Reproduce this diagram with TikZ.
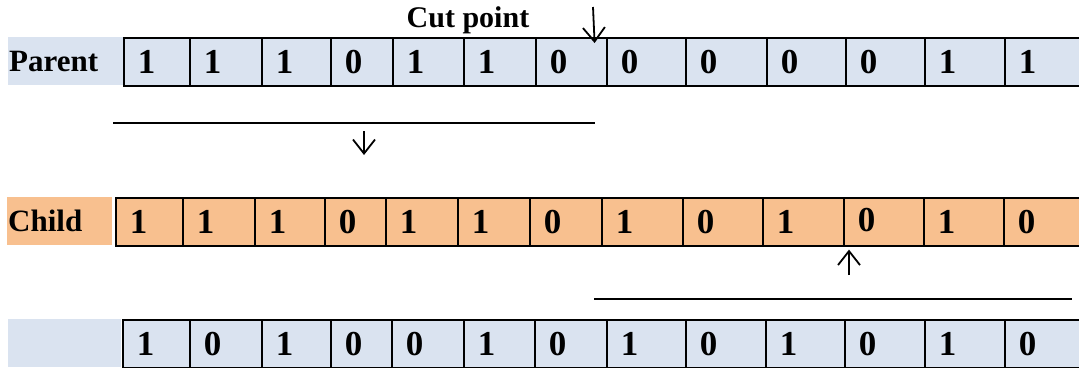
\documentclass[tikz,border=0pt]{standalone}
\usepackage{fontspec}
\setmainfont{Liberation Serif}
\usepackage{xcolor}
\usetikzlibrary{arrows.meta}

\definecolor{parentblue}{HTML}{DAE3F0}
\definecolor{childorange}{HTML}{F8C08F}

\begin{document}
\begin{tikzpicture}[x=1pt,y=-1pt]
            \tikzset{
                bit/.style={draw, line width=1.6pt, anchor=north west, minimum height=48pt,
                    inner xsep=14pt, inner ysep=0pt, align=left,
                    font=\fontsize{35}{35}\selectfont\bfseries},
                tag/.style={anchor=north west, minimum height=48pt, inner xsep=1pt,
                    inner ysep=0pt, align=left, font=\fontsize{31}{31}\selectfont\bfseries},
                cutline/.style={line width=1.6pt},
                marker/.style={line width=1.8pt, -{Straight Barb[length=14pt, width=22pt, line width=1.8pt]}}
            }
            \useasboundingbox (0,0) rectangle (1079,367);
            % row labels
            \node[tag, fill=parentblue, text width=113pt] (parent) at (8,37) {Parent};
            \node[tag, fill=childorange, text width=103pt] (child) at (7,197) {Child};
            \node[tag, fill=parentblue, text width=111pt] (other) at (8,319) {};
            % parent chromosome
            \foreach \i/\l/\r/\v [evaluate=\l as \w using \r-\l-28] in
                {1/123/189/1, 2/189/261/1, 3/261/330/1, 4/330/392/0, 5/392/463/1, 6/463/535/1, 7/535/606/0,
                 8/606/685/0, 9/685/766/0, 10/766/845/0, 11/845/924/0, 12/924/1004/1, 13/1004/1082/1}
                \node[bit, fill=parentblue, text width=\w pt] (p\i) at (\l,37) {\v};
            % child chromosome
            \foreach \i/\l/\r/\v [evaluate=\l as \w using \r-\l-28] in
                {1/115/182/1, 2/182/254/1, 3/254/324/1, 4/324/385/0, 5/385/457/1, 6/457/529/1, 7/529/601/0,
                 8/601/682/1, 9/682/762/0, 10/762/843/1, 11/843/923/{\raisebox{4pt}{0}}, 12/923/1003/1, 13/1003/1082/0}
                \node[bit, fill=childorange, text width=\w pt] (c\i) at (\l,197) {\v};
            % second parent
            \foreach \i/\l/\r/\v [evaluate=\l as \w using \r-\l-28] in
                {1/122/189/1, 2/189/261/0, 3/261/330/1, 4/330/391/0, 5/391/463/0, 6/463/534/1, 7/534/606/0,
                 8/606/685/1, 9/685/765/0, 10/765/844/1, 11/844/924/0, 12/924/1004/1, 13/1004/1082/0}
                \node[bit, fill=parentblue, text width=\w pt] (o\i) at (\l,319) {\v};
            % cut points
            \node[font=\fontsize{30}{30}\selectfont\bfseries] (cutlabel) at (468,20) {Cut point};
            \coordinate (cuttail) at (593,7);
            \draw[marker] (cuttail) -- ([xshift=-13pt, yshift=-6pt]p7.north east);
            \coordinate (headleft) at (113,123);
            \coordinate (headright) at (595,123);
            \draw[cutline] (headleft) -- (headright);
            \coordinate (downtail) at (364,131);
            \coordinate (downtip) at (364,155);
            \draw[marker] (downtail) -- (downtip);
            \coordinate (uptail) at (849,275);
            \draw[marker] (uptail) -- ([xshift=6pt, yshift=-3pt]c11.south west);
            \coordinate (tailleft) at (594,299);
            \coordinate (tailright) at (1072,299);
            \draw[cutline] (tailleft) -- (tailright);
        \end{tikzpicture}
\end{document}
